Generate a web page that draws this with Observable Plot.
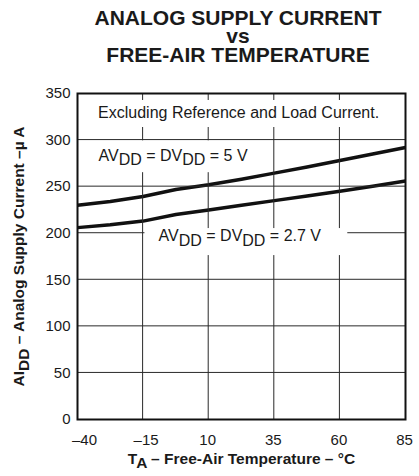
<!DOCTYPE html>
<html>
<head>
<meta charset="utf-8">
<script src="https://cdn.jsdelivr.net/npm/d3@7"></script>
<script src="https://cdn.jsdelivr.net/npm/@observablehq/plot@0.6"></script>
<style>
  html, body { margin: 0; padding: 0; background: white; }
  #title {
    width: 419px; height: 80px; box-sizing: border-box;
    padding-left: 57px; padding-top: 8.5px;
    text-align: center; font: bold 21px "Liberation Sans", Arial, sans-serif;
    line-height: 18.5px; color: #1a1a1a;
  }
  #chart svg { display: block; }
</style>
</head>
<body>
<div id="title">ANALOG SUPPLY CURRENT<br>vs<br>FREE-AIR TEMPERATURE</div>
<div id="chart"></div>
<script>
// Temperature samples (°C)
const temps = [-40, -27.5, -15, -2.5, 10, 22.5, 35, 47.5, 60, 72.5, 85];
// Analog supply current (µA), AVDD = DVDD = 5 V
const current5V = [230, 234, 239.5, 247, 252, 258, 264.5, 271, 278, 285, 292];
// Analog supply current (µA), AVDD = DVDD = 2.7 V
const current27V = [206, 209, 213, 220, 225, 230, 235, 240, 245, 250.5, 256];

const xTicks = [-40, -15, 10, 35, 60, 85];
const yTicks = [0, 50, 100, 150, 200, 250, 300, 350];
const xGrid = [-15, 10, 35, 60];
const yGrid = [50, 100, 150, 200, 250, 300];

const xLabel = "T_{A} – Free-Air Temperature – °C";
const yLabel = "AI_{DD} – Analog Supply Current –µ A";

// annotation labels (data coordinates)
const notes = [
  {label: "Excluding Reference and Load Current.", x: 21.4, y: 329, anchor: "middle"},
  {label: "AV_{DD} = DV_{DD} = 5 V", x: -32, y: 283.5, anchor: "start"},
  {label: "AV_{DD} = DV_{DD} = 2.7 V", x: -9.1, y: 196.8, anchor: "start"}
];
// clear areas behind the labels, where the grid is interrupted
const boxes = [
  {x1: -40, x2: 85, y1: 313.5, y2: 342.5},
  {x1: -40, x2: 28, y1: 265, y2: 299.2},
  {x1: -14.3, x2: 63, y1: 176, y2: 205}
];

// grid segments = full gridlines minus the label areas
function subtract(lo, hi, cuts) {
  cuts.sort((a, b) => a[0] - b[0]);
  const segs = [];
  let cur = lo;
  for (const [a, b] of cuts) {
    if (a > cur) segs.push([cur, a]);
    cur = Math.max(cur, b);
  }
  if (cur < hi) segs.push([cur, hi]);
  return segs;
}
const vSegs = [];
xGrid.forEach(g => {
  const cuts = boxes.filter(b => b.x1 < g && g < b.x2).map(b => [b.y1, b.y2]);
  subtract(0, 350, cuts).forEach(([a, b]) => vSegs.push({x: g, y1: a, y2: b}));
});
const hSegs = [];
yGrid.forEach(g => {
  const cuts = boxes.filter(b => b.y1 < g && g < b.y2).map(b => [b.x1, b.x2]);
  subtract(-40, 85, cuts).forEach(([a, b]) => hSegs.push({y: g, x1: a, x2: b}));
});

const rows = [];
temps.forEach((t, i) => {
  rows.push({t, v: current5V[i], s: "5V"});
  rows.push({t, v: current27V[i], s: "2.7V"});
});

const fmt = d => d < 0 ? "–" + Math.abs(d) : String(d);
const ink = "#1a1a1a";
const gridInk = "#2a2a2a";

const chart = Plot.plot({
  width: 419,
  height: 396,
  marginTop: 13,
  marginBottom: 57,
  marginLeft: 77,
  marginRight: 14,
  x: {domain: [-40, 85]},
  y: {domain: [0, 350]},
  style: {fontFamily: "'Liberation Sans', Arial, sans-serif", fontSize: "15px", color: ink, background: "white"},
  marks: [
    Plot.line(rows, {x: "t", y: "v", z: "s", stroke: "#111", strokeWidth: 3.5, strokeLinecap: "butt"}),
    // grid drawn as 1px filled bars (zero data width, widened by negative insets)
    Plot.rect(vSegs, {x1: "x", x2: "x", y1: "y1", y2: "y2", insetLeft: -0.5, insetRight: -0.5, fill: gridInk}),
    Plot.rect(hSegs, {x1: "x1", x2: "x2", y1: "y", y2: "y", insetTop: -0.5, insetBottom: -0.5, fill: gridInk}),
    Plot.text(notes.filter(d => d.anchor === "middle"), {x: "x", y: "y", text: "label", textAnchor: "middle", fontSize: 16, fill: ink}),
    Plot.text(notes.filter(d => d.anchor === "start"), {x: "x", y: "y", text: "label", textAnchor: "start", fontSize: 16, fill: ink}),
    Plot.frame({stroke: "#111", strokeWidth: 2}),
    Plot.axisY(yTicks, {tickSize: 0, tickPadding: 7, fontSize: 15, label: null}),
    Plot.axisX([-40], {tickSize: 0, tickPadding: 15, fontSize: 15, tickFormat: fmt, dx: 7, label: null}),
    Plot.axisX([-15], {tickSize: 0, tickPadding: 15, fontSize: 15, tickFormat: fmt, dx: 3, label: null}),
    Plot.axisX([10, 35, 60, 85], {tickSize: 0, tickPadding: 15, fontSize: 15, tickFormat: fmt, dx: -1, label: null}),
    Plot.text([xLabel], {text: d => d, frameAnchor: "bottom", textAnchor: "middle", dy: 44, fontWeight: "bold", fontSize: 15.5, fill: ink}),
    Plot.text([yLabel], {text: d => d, frameAnchor: "left", textAnchor: "middle", rotate: -90, dx: -58, fontWeight: "bold", fontSize: 15.5, fill: ink})
  ]
});

document.getElementById("chart").appendChild(chart);

// render _{..} as subscripts
const NS = "http://www.w3.org/2000/svg";
chart.querySelectorAll("text").forEach(t => {
  const tsp = t.querySelectorAll("tspan");
  const nodes = tsp.length ? Array.from(tsp) : [t];
  nodes.forEach(n => {
    const s = n.textContent;
    if (!s.includes("_{")) return;
    const fs = parseFloat(getComputedStyle(n).fontSize) || 15;
    const shift = fs * 0.28;
    n.textContent = "";
    const parts = s.split(/(_\{[^}]*\})/);
    let down = false;
    for (const p of parts) {
      if (!p) continue;
      const ts = document.createElementNS(NS, "tspan");
      if (p.startsWith("_{")) {
        ts.textContent = p.slice(2, -1);
        ts.setAttribute("dy", shift);
        down = true;
      } else {
        ts.textContent = p;
        if (down) { ts.setAttribute("dy", -shift); down = false; }
      }
      n.appendChild(ts);
    }
  });
});
</script>
</body>
</html>
